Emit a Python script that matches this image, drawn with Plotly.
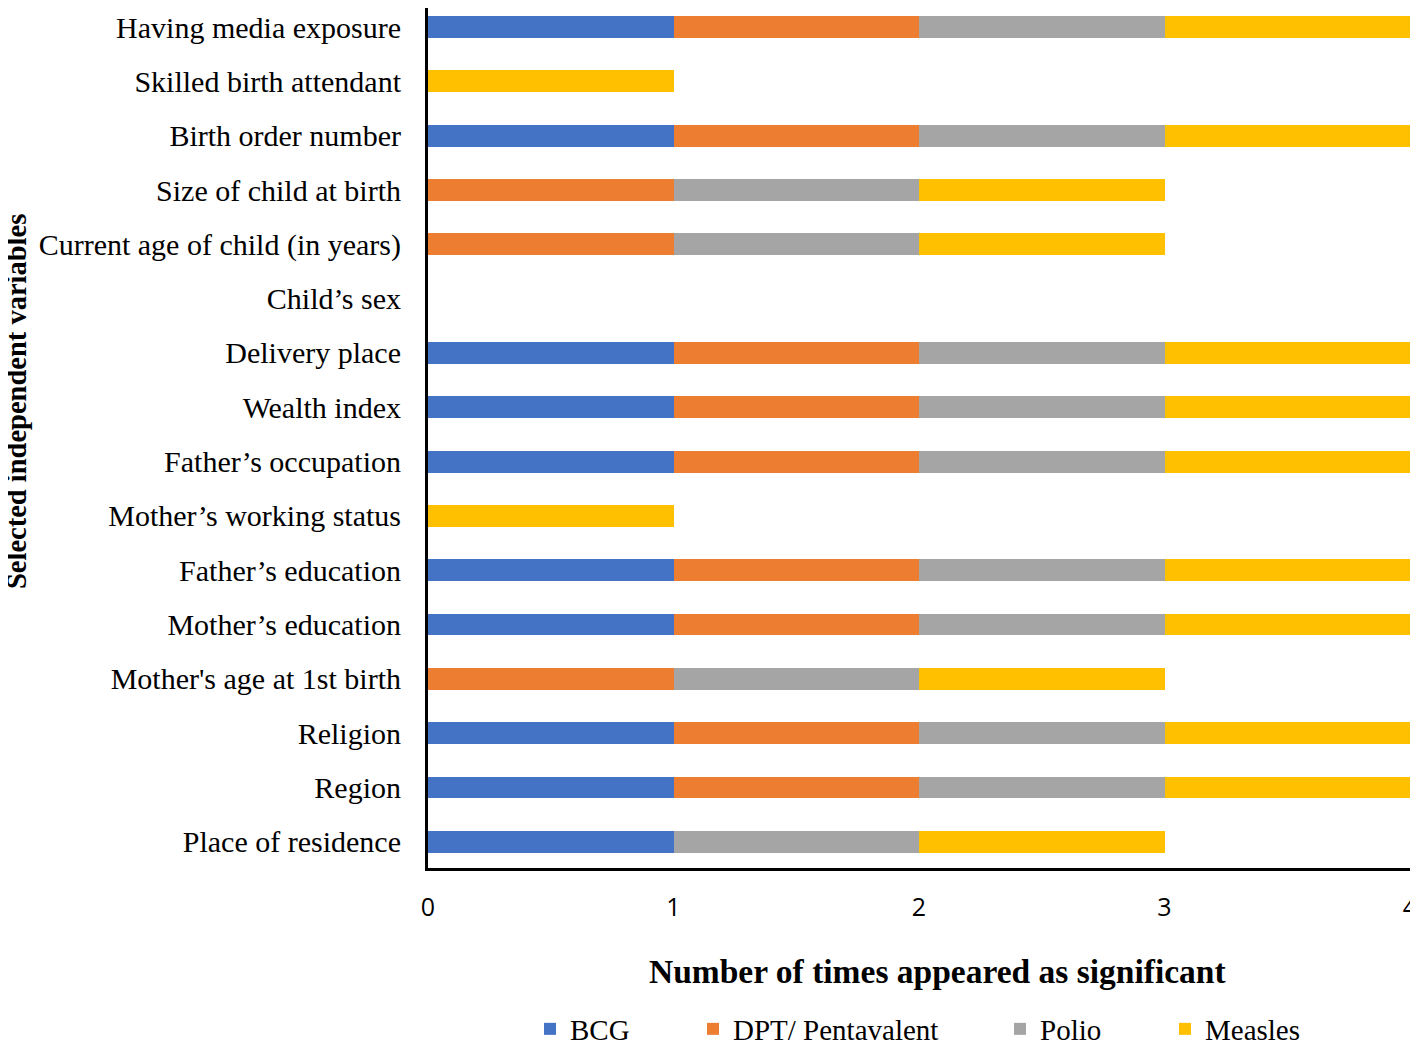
import plotly.graph_objects as go

# categories bottom -> top
variables = [
    "Place of residence", "Region", "Religion", "Mother's age at 1st birth",
    "Mother’s education", "Father’s education", "Mother’s working status",
    "Father’s occupation", "Wealth index", "Delivery place", "Child’s sex",
    "Current age of child (in years)", "Size of child at birth",
    "Birth order number", "Skilled birth attendant", "Having media exposure",
]
bcg     = [1, 1, 1, 0, 1, 1, 0, 1, 1, 1, 0, 0, 0, 1, 0, 1]
dpt     = [0, 1, 1, 1, 1, 1, 0, 1, 1, 1, 0, 1, 1, 1, 0, 1]
polio   = [1, 1, 1, 1, 1, 1, 0, 1, 1, 1, 0, 1, 1, 1, 0, 1]
measles = [1, 1, 1, 1, 1, 1, 1, 1, 1, 1, 0, 1, 1, 1, 1, 1]

series = [
    ("BCG", bcg, "#4472C4"),
    ("DPT/ Pentavalent", dpt, "#ED7D31"),
    ("Polio", polio, "#A5A5A5"),
    ("Measles", measles, "#FFC000"),
]

SERIF = "Liberation Serif, Times New Roman, serif"

fig = go.Figure()
legend_ids = ["legend", "legend2", "legend3", "legend4"]
for (name, vals, color), lg in zip(series, legend_ids):
    fig.add_trace(go.Bar(
        y=variables, x=vals, name=name, orientation="h",
        marker=dict(color=color, line=dict(width=0)),
        legend=lg,
    ))

# the page body adds an 8px margin, so the figure is 8px smaller
OFF = 8
W, H = 1418 - OFF, 1040 - OFF
L, R, T, B = 420, 8, 0, 172
pw, ph = W - L - R, H - T - B


def px_x(page_x):
    return (page_x - OFF - L) / pw


def px_y(page_y):
    return (ph - (page_y - OFF)) / ph


# left edge of each legend entry (page px)
legend_px = [530, 693, 1000, 1165]
legend_common = dict(orientation="h", yanchor="middle", y=px_y(1029),
                     xanchor="left", font=dict(family=SERIF, size=29, color="#000"),
                     bgcolor="rgba(0,0,0,0)", itemwidth=30)
layout_legends = {}
for lg, px in zip(legend_ids, legend_px):
    layout_legends[lg] = dict(legend_common, x=px_x(px))

fig.update_layout(
    width=W, height=H,
    barmode="stack", bargap=0.6,
    plot_bgcolor="white", paper_bgcolor="white",
    margin=dict(l=L, r=R, t=T, b=B, autoexpand=False),
    showlegend=True,
    **layout_legends,
    xaxis=dict(
        range=[0, 4], dtick=1, showgrid=False, zeroline=False,
        showline=True, linecolor="black", linewidth=3,
        ticks="", ticklabelstandoff=15, automargin=False,
        ticklabeloverflow="allow",
        tickfont=dict(family="Open Sans, sans-serif", size=25, color="#000"),
    ),
    yaxis=dict(
        range=[-0.48, 15.35], showgrid=False, zeroline=False,
        showline=True, linecolor="black", linewidth=3,
        ticks="", ticklabelstandoff=18, automargin=False,
        ticklabeloverflow="allow",
        tickfont=dict(family=SERIF, size=30, color="#000"),
    ),
    annotations=[
        dict(text="<b>Number of times appeared as significant</b>",
             xref="paper", yref="paper", x=px_x(937), y=px_y(971),
             xanchor="center", yanchor="middle", showarrow=False,
             font=dict(family=SERIF, size=33.5, color="#000")),
        dict(text="<b>Selected independent variables</b>", textangle=-90,
             xref="paper", yref="paper", x=px_x(16), y=px_y(402),
             xanchor="center", yanchor="middle", showarrow=False,
             font=dict(family=SERIF, size=28.5, color="#000")),
    ],
)

fig.write_html("out.html")
